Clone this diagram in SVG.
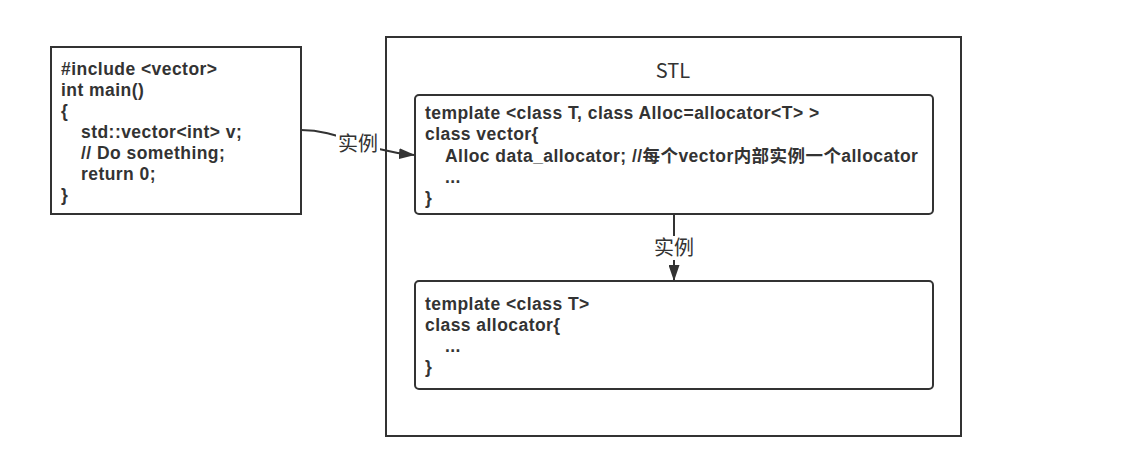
<svg xmlns="http://www.w3.org/2000/svg" width="1133" height="472" viewBox="0 0 1133 472">
<defs>
<style>
.box{fill:#fff;stroke:#333;stroke-width:2}
.code{font-family:"Liberation Sans","Noto Sans CJK SC",sans-serif;font-weight:bold;font-size:17.5px;letter-spacing:0.45px;fill:#333}
.lbl{font-family:"Noto Sans CJK SC","Noto Sans",sans-serif;font-size:20px;fill:#333}
.edge{fill:none;stroke:#333;stroke-width:2}
</style>
<marker id="arr" viewBox="0 0 16 11" refX="15" refY="5.5" markerWidth="16" markerHeight="11" markerUnits="userSpaceOnUse" orient="auto">
<path d="M0,0 L16,5.5 L0,11 Z" fill="#333"/>
</marker>
</defs>
<rect width="1133" height="472" fill="#fff"/>
<g id="main">
<rect class="box" x="51" y="47" width="250" height="167"/>
<text class="code" x="61" y="75">#include &lt;vector&gt;</text>
<text class="code" x="61" y="96">int main()</text>
<text class="code" x="61" y="117">{</text>
<text class="code" x="81" y="138">std::vector&lt;int&gt; v;</text>
<text class="code" x="81" y="159">// Do something;</text>
<text class="code" x="81" y="180">return 0;</text>
<text class="code" x="61" y="201">}</text>
</g>
<g id="stl">
<rect class="box" x="386" y="37" width="575" height="399"/>
<text class="lbl" x="673" y="78" text-anchor="middle" font-size="21">STL</text>
</g>
<g id="vector">
<rect class="box" x="415" y="95" width="518" height="119" rx="4"/>
<text class="code" x="425" y="119">template &lt;class T, class Alloc=allocator&lt;T&gt; &gt;</text>
<text class="code" x="425" y="140">class vector{</text>
<text class="code" x="445" y="162">Alloc data_allocator; //每个vector内部实例一个allocator</text>
<text class="code" x="445" y="183">...</text>
<text class="code" x="425" y="204">}</text>
</g>
<g id="allocator">
<rect class="box" x="415" y="281" width="518" height="108" rx="4"/>
<text class="code" x="425" y="310">template &lt;class T&gt;</text>
<text class="code" x="425" y="331">class allocator{</text>
<text class="code" x="445" y="352">...</text>
<text class="code" x="425" y="373">}</text>
</g>
<g id="connectors">
<path class="edge" d="M301,130 C340,130 360,150 414,155" marker-end="url(#arr)"/>
<rect x="336" y="132" width="44" height="24" fill="#fff"/>
<text class="lbl" x="358" y="151" text-anchor="middle">实例</text>
<path class="edge" d="M674,214 L674,280" marker-end="url(#arr)"/>
<rect x="652" y="236" width="44" height="24" fill="#fff"/>
<text class="lbl" x="674" y="255" text-anchor="middle">实例</text>
</g>
</svg>
